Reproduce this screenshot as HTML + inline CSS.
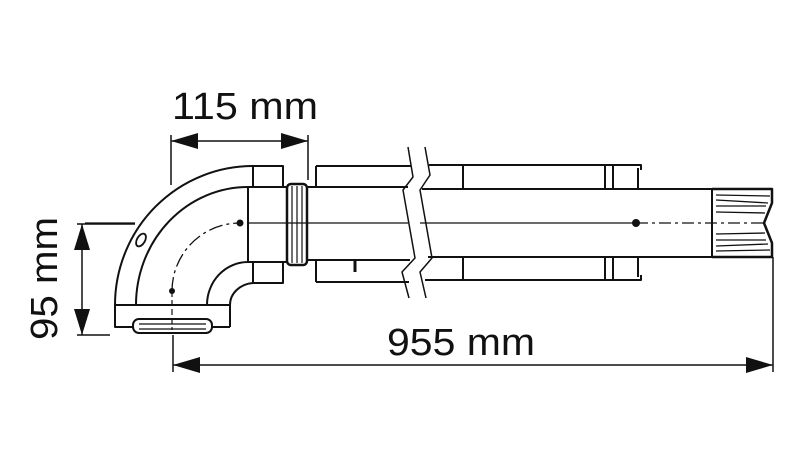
<!DOCTYPE html>
<html><head><meta charset="utf-8"><style>html,body{margin:0;padding:0;background:#fff}svg{display:block}</style></head>
<body>
<svg width="800" height="451" viewBox="0 0 800 451" xmlns="http://www.w3.org/2000/svg">
<rect width="800" height="451" fill="#fff"/>
<g fill="none" stroke="#111" stroke-width="2" stroke-linejoin="round">
<!-- elbow -->
<path d="M115,305 A138,139 0 0 1 253,166"/>
<path d="M136,305 A112,118 0 0 1 248,187"/>
<path d="M207,305 A41,43 0 0 1 248,262"/>
<path d="M230,327 L230,305 A25,22 0 0 1 253,283"/>
<path d="M115,305 L115,327 L133,327"/>
<line x1="115" y1="305" x2="230" y2="305"/>
<line x1="212" y1="327" x2="230" y2="327"/>
<rect x="133" y="319" width="79" height="14" rx="6"/>
<line x1="139" y1="324" x2="206" y2="324" stroke-width="1.2"/>
<line x1="139" y1="329" x2="206" y2="329" stroke-width="1.2"/>
<!-- hub -->
<rect x="253" y="166" width="30" height="21"/>
<rect x="248" y="187" width="39" height="75"/>
<rect x="253" y="262" width="30" height="21"/>
<!-- ring -->
<rect x="287" y="184" width="20" height="81" rx="4" stroke-width="2.5"/>
<line x1="292" y1="186" x2="292" y2="263" stroke-width="1.2"/>
<line x1="297" y1="186" x2="297" y2="263" stroke-width="1.2"/>
<line x1="302" y1="186" x2="302" y2="263" stroke-width="1.2"/>
<!-- left pipe/sleeve -->
<path d="M307,187 L408,187"/>
<path d="M307,260 L410,260"/>
<path d="M316,166 L316,187 M316,260 L316,282"/>
<path d="M316,166 L411,166 M316,282 L409,282"/>
<path d="M355,260 L355,272" stroke-width="3"/>
<!-- break lines -->
<path d="M408,147 L413,177 L403,190 L415,258 L402,272 L409,298" stroke-width="1.5"/>
<path d="M425,147 L430,175 L420,190 L432,258 L420,272 L426,298" stroke-width="1.5"/>
<!-- right sleeve -->
<path d="M429,165 L641,165 L641,170 M425,280 L641,280 L641,275"/>
<path d="M463,165 L463,189 M463,257 L463,280"/>
<path d="M605,165 L605,189 M613,165 L613,189 M605,257 L605,280 M613,257 L613,280"/>
<path d="M638,168 L638,189 M638,257 L638,277"/>
<!-- right pipe -->
<path d="M422,189 L712,189 L712,257 L428,257"/>
<!-- corrugated end -->
<path d="M712,189 L772,189 L772,203 L764,223 L772,243 L772,257 L712,257" stroke-width="2.5"/>
<g stroke-width="1.3">
<line x1="716" y1="195" x2="770" y2="196"/><line x1="716" y1="200" x2="768" y2="203"/><line x1="716" y1="206" x2="766" y2="206"/><line x1="716" y1="212" x2="765" y2="213"/>
<line x1="716" y1="234" x2="765" y2="233"/><line x1="716" y1="240" x2="766" y2="240"/><line x1="716" y1="246" x2="768" y2="244"/><line x1="716" y1="251" x2="770" y2="250"/>
</g>
<!-- centerlines -->
<path d="M85,223 L135,223" stroke-width="1.2"/>
<path d="M248,223 L408,223 M420,223 L636,223" stroke-width="1.2"/>
<path d="M636,223 L712,223 L764,223" stroke-width="1.2" stroke-dasharray="12,4,3,4"/>
<path d="M172,291 A68,68 0 0 1 240,223" stroke-width="1.3" stroke-dasharray="14,4,3,4"/>
<path d="M172,291 L172,330" stroke-width="1.2" stroke-dasharray="6,3"/>
<ellipse cx="141" cy="240" rx="4" ry="7" transform="rotate(30 141 240)" stroke-width="1.8"/>
</g>
<g fill="#111">
<circle cx="240" cy="223" r="3.5"/><circle cx="172" cy="291" r="3"/><circle cx="636" cy="223" r="4"/>
</g>
<!-- dimensions -->
<g stroke="#111" stroke-width="1.5" fill="none">
<path d="M171,135 L171,185 M308,135 L308,180"/>
<path d="M171,141 L308,141"/>
<path d="M77,224 L135,224 M77,335 L110,335 M82,224 L82,335"/>
<path d="M173,335 L173,372 M773,257 L773,372 M173,365 L773,365"/>
</g>
<g fill="#111">
<polygon points="171,141 198,133 198,149"/><polygon points="308,141 281,133 281,149"/>
<polygon points="82,224 74,250 90,250"/><polygon points="82,335 74,309 90,309"/>
<polygon points="173,365 200,357 200,373"/><polygon points="773,365 746,357 746,373"/>
</g>
<g font-family="Liberation Sans, sans-serif" font-size="38" fill="#111">
<text x="172" y="119" textLength="146" lengthAdjust="spacingAndGlyphs">115 mm</text>
<text x="387" y="355" textLength="148" lengthAdjust="spacingAndGlyphs">955 mm</text>
<text transform="translate(57,340) rotate(-90)" textLength="123" lengthAdjust="spacingAndGlyphs">95 mm</text>
</g>
</svg>
</body></html>
